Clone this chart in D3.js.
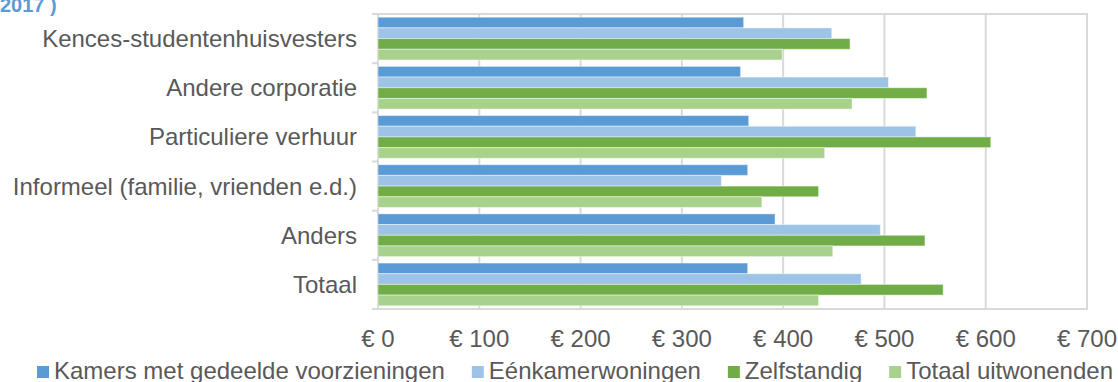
<!DOCTYPE html>
<html>
<head>
<meta charset="utf-8">
<script src="https://cdn.jsdelivr.net/npm/d3@7"></script>
<style>
  html, body { margin: 0; padding: 0; background: #fff; }
  svg { display: block; font-family: "Liberation Sans", Arial, sans-serif; }
</style>
</head>
<body>
<svg id="chart" width="1118" height="382"></svg>
<script>
// Gemiddelde huur per huisvester en woningtype
const categories = [
  "Kences-studentenhuisvesters",
  "Andere corporatie",
  "Particuliere verhuur",
  "Informeel (familie, vrienden e.d.)",
  "Anders",
  "Totaal"
];
const seriesNames = [
  "Kamers met gedeelde voorzieningen",
  "Eénkamerwoningen",
  "Zelfstandig",
  "Totaal uitwonenden"
];
const kamers        = [361, 358, 366, 365, 392, 365];
const eenkamer      = [448, 504, 531, 339, 496, 477];
const zelfstandig   = [466, 542, 605, 435, 540, 558];
const totaalUitwon  = [399, 468, 441, 379, 449, 435];
const seriesValues = [kamers, eenkamer, zelfstandig, totaalUitwon];
const colors = ["#5B9BD5", "#9DC3E6", "#70AD47", "#A9D18E"];
const xTicks = [0, 100, 200, 300, 400, 500, 600, 700];

const svg = d3.select("#chart");
const textColor = "#595959";
const gridColor = "#D9D9D9";
const fontSize = 24;

const plot = { left: 378, right: 1087, top: 14, bottom: 309 };

const x = d3.scaleLinear().domain([0, 700]).range([plot.left, plot.right]);
const y = d3.scaleBand().domain(categories).range([plot.top, plot.bottom]).padding(0);
const ySeries = d3.scaleBand().domain(d3.range(seriesNames.length))
  .range([0, y.bandwidth()]).paddingInner(0).paddingOuter(0.3);

// last line of the title, running off the top edge
svg.append("text")
  .attr("x", 0).attr("y", 12)
  .attr("fill", "#5B9BD5")
  .attr("font-weight", "bold")
  .attr("font-size", 20)
  .text("2017 )");

// vertical gridlines
svg.append("g")
  .selectAll("line")
  .data(xTicks)
  .join("line")
  .attr("x1", d => x(d)).attr("x2", d => x(d))
  .attr("y1", plot.top).attr("y2", plot.bottom)
  .attr("stroke", gridColor).attr("stroke-width", 2);

// plot frame
svg.append("rect")
  .attr("x", plot.left).attr("y", plot.top)
  .attr("width", plot.right - plot.left).attr("height", plot.bottom - plot.top)
  .attr("fill", "none").attr("stroke", gridColor).attr("stroke-width", 2);

// category tick marks on the left axis
const boundaries = categories.map(c => y(c)).concat([plot.bottom]);
svg.append("g")
  .selectAll("line")
  .data(boundaries)
  .join("line")
  .attr("x1", plot.left - 6).attr("x2", plot.left)
  .attr("y1", d => d).attr("y2", d => d)
  .attr("stroke", gridColor).attr("stroke-width", 2);

// bars
const groups = svg.append("g")
  .selectAll("g")
  .data(categories)
  .join("g")
  .attr("transform", c => `translate(0,${y(c)})`);

groups.selectAll("rect")
  .data((c, ci) => seriesValues.map((vals, si) => ({ si, v: vals[ci] })))
  .join("rect")
  .attr("x", x(0))
  .attr("y", d => ySeries(d.si))
  .attr("width", d => x(d.v) - x(0))
  .attr("height", ySeries.bandwidth())
  .attr("fill", d => colors[d.si])
  .attr("stroke", "#ffffff")
  .attr("stroke-opacity", 0.45)
  .attr("stroke-width", 1);

// category labels
svg.append("g")
  .selectAll("text")
  .data(categories)
  .join("text")
  .attr("x", 357)
  .attr("y", c => y(c) + y.bandwidth() / 2 + 8.5)
  .attr("text-anchor", "end")
  .attr("font-size", fontSize)
  .attr("fill", textColor)
  .text(c => c);

// value axis labels
svg.append("g")
  .selectAll("text")
  .data(xTicks)
  .join("text")
  .attr("x", d => x(d))
  .attr("y", 346.5)
  .attr("text-anchor", "middle")
  .attr("font-size", fontSize)
  .attr("fill", textColor)
  .text(d => "€ " + d);

// legend: items spread between a fixed left and right edge
const legendLeft = 37, legendRight = 1113, swatch = 12, swatchGap = 5;
const legend = svg.append("g");
const items = seriesNames.map((name, i) => {
  const g = legend.append("g");
  g.append("rect")
    .attr("y", 366)
    .attr("width", swatch).attr("height", swatch)
    .attr("fill", colors[i]);
  const t = g.append("text")
    .attr("x", swatch + swatchGap).attr("y", 378.5)
    .attr("font-size", fontSize)
    .attr("fill", textColor)
    .text(name);
  return { g, w: swatch + swatchGap + t.node().getComputedTextLength() };
});
const totalW = d3.sum(items, d => d.w);
const gap = (legendRight - legendLeft - totalW) / (items.length - 1);
let lx = legendLeft;
items.forEach(it => {
  it.g.attr("transform", `translate(${lx},0)`);
  lx += it.w + gap;
});
</script>
</body>
</html>
